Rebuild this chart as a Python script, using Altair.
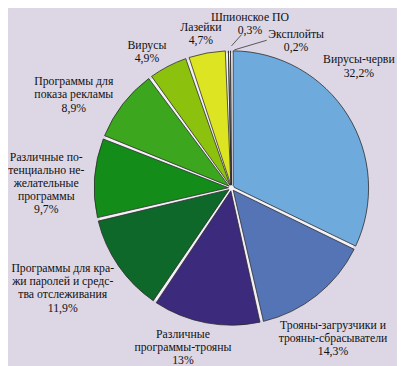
import math
import altair as alt
import pandas as pd

# ---------------- data ----------------
categories = [
    "Вирусы-черви",
    "Трояны-загрузчики и трояны-сбрасыватели",
    "Различные программы-трояны",
    "Программы для кражи паролей и средства отслеживания",
    "Различные потенциально нежелательные программы",
    "Программы для показа рекламы",
    "Вирусы",
    "Лазейки",
    "Шпионское ПО",
    "Эксплойты",
]
values = [32.2, 14.3, 13.0, 11.9, 9.7, 8.9, 4.9, 4.7, 0.3, 0.2]
label_lines = [
    "Вирусы-черви",
    "Трояны-загрузчики и\nтрояны-сбрасыватели",
    "Различные\nпрограммы-трояны",
    "Программы для кра-\nжи паролей и средс-\nтва отслеживания",
    "Различные по-\nтенциально не-\nжелательные\nпрограммы",
    "Программы для\nпоказа рекламы",
    "Вирусы",
    "Лазейки",
    "Шпионское ПО",
    "Эксплойты",
]
colors = [
    "#6eaadc", "#5574b6", "#3c2a7c", "#0e682a", "#138c1a",
    "#3ba61e", "#8cc20e", "#dde422", "#f2e20a", "#c8201a",
]

# ---------------- layout (label placement) ----------------
label_shift_deg = [-11.6, 4.4, 6.3, 4.0, -2.7, -7.0, -4.2, -0.9, 7.7, 24.1]
label_radius = [180, 185, 170, 200, 189, 187, 164, 161, 169, 164]
lead_from_shift = [0, 0, 0, 0, 0, 0, 0, 0, 1.3, 1.6]
lead_from_r = [0, 0, 0, 0, 0, 0, 0, 0, 145, 141]
lead_to_shift = [0, 0, 0, 0, 0, 0, 0, 0, 5.1, 13.8]
lead_to_r = [0, 0, 0, 0, 0, 0, 0, 0, 157, 155]

CX, CY, R = 228, 180, 140
LINE_H = 13.5
BG = "#dcd6e5"


def pct(v):
    return f"{v:g}".replace(".", ",") + "%"


labels_full = [l + "\n" + pct(v) for l, v in zip(label_lines, values)]

df = pd.DataFrame({
    "idx": list(range(len(categories))),
    "cat": categories,
    "value": values,
    "label": labels_full,
    "nlines": [s.count("\n") + 1 for s in labels_full],
    "lshift": label_shift_deg,
    "lr": label_radius,
    "fs": lead_from_shift,
    "fr": lead_from_r,
    "ts": lead_to_shift,
    "tr": lead_to_r,
})

base = (
    alt.Chart(df)
    .transform_window(cum="sum(value)", sort=[alt.SortField("idx", order="ascending")], frame=[None, 0])
    .transform_joinaggregate(total="sum(value)")
    .transform_calculate(mid="(datum.cum - datum.value/2) / datum.total * 2 * PI")
)

under = alt.Chart(pd.DataFrame({"v": [1]})).mark_arc(
    x=CX, y=CY, outerRadius=R - 2, fill="#f3f1f7"
).encode(theta=alt.value(0), theta2=alt.value(2 * math.pi))

pie = alt.Chart(df).mark_arc(
    x=CX, y=CY, outerRadius=R, innerRadius=3, padAngle=0.026,
    stroke="#2a2a2a", strokeWidth=0.8,
).encode(
    theta=alt.Theta("value:Q", stack=True),
    color=alt.Color("cat:N", scale=alt.Scale(domain=categories, range=colors), legend=None),
    order=alt.Order("idx:Q", sort="ascending"),
)

leads = (
    base.transform_filter("datum.tr > 0")
    .transform_calculate(
        a1="datum.mid + datum.fs * PI / 180",
        a2="datum.mid + datum.ts * PI / 180",
    )
    .transform_calculate(
        x1=f"{CX} + datum.fr * sin(datum.a1)",
        y1=f"{CY} - datum.fr * cos(datum.a1)",
        x2=f"{CX} + datum.tr * sin(datum.a2)",
        y2=f"{CY} - datum.tr * cos(datum.a2)",
    )
    .mark_rule(color="#333333", strokeWidth=0.8)
    .encode(
        x=alt.X("x1:Q", scale=None, axis=None),
        y=alt.Y("y1:Q", scale=None, axis=None),
        x2="x2:Q",
        y2="y2:Q",
    )
)

labels = (
    base.transform_calculate(la="datum.mid + datum.lshift * PI / 180")
    .transform_calculate(
        lx=f"{CX} + datum.lr * sin(datum.la)",
        ly=f"{CY} - datum.lr * cos(datum.la) - (datum.nlines - 1) * {LINE_H} / 2",
    )
    .mark_text(
        lineBreak="\n", font="Liberation Serif", fontSize=12, lineHeight=LINE_H,
        color="#111111", align="center", baseline="middle",
    )
    .encode(
        x=alt.X("lx:Q", scale=None, axis=None),
        y=alt.Y("ly:Q", scale=None, axis=None),
        text="label:N",
    )
)

chart = (
    alt.layer(under, pie, leads, labels)
    .properties(
        width=397, height=358, padding=0,
        autosize=alt.AutoSizeParams(type="none"),
        background=BG,
    )
    .configure_view(stroke=None)
)

chart.save("out.html", embed_options={"renderer": "svg", "actions": False})
